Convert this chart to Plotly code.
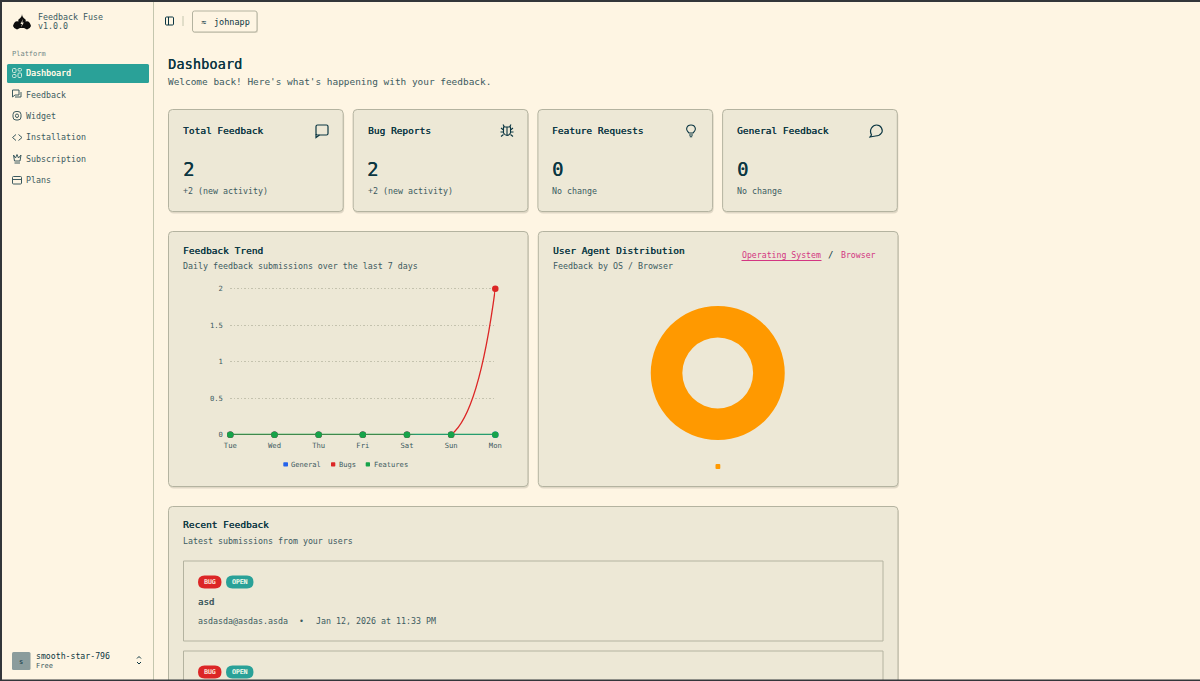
import plotly.graph_objects as go

# chart values
days = ["Tue", "Wed", "Thu", "Fri", "Sat", "Sun", "Mon"]
general = [0, 0, 0, 0, 0, 0, 0]
bugs = [0, 0, 0, 0, 0, 0, 2]
features = [0, 0, 0, 0, 0, 0, 0]
y_ticks = [0, 0.5, 1, 1.5, 2]
y_tick_labels = ["0", "0.5", "1", "1.5", "2"]
os_labels = [""]
os_values = [2]

# page text
nav_items = ["Dashboard", "Feedback", "Widget", "Installation", "Subscription", "Plans"]
card_titles = ["Total Feedback", "Bug Reports", "Feature Requests", "General Feedback"]
card_values = ["2", "2", "0", "0"]
card_notes = ["+2 (new activity)", "+2 (new activity)", "No change", "No change"]
legend_names = ["General", "Bugs", "Features"]

FONT = "DejaVu Sans Mono"
BG = "#fef5e3"
CARD = "#ede8d6"
EDGE = "#b4b3a0"
DARK = "#0b3642"
SOFT = "#3c5a5f"
TEAL = "#2aa198"
PINK = "#d33682"
RED = "#dc2626"
GREEN = "#16a34a"
BLUE = "#2563eb"
ORANGE = "#ff9900"

shapes = []
notes = []


def rr(x0, y0, x1, y1, r):
    return (f"M{x0+r},{y0} L{x1-r},{y0} Q{x1},{y0} {x1},{y0+r} L{x1},{y1-r} "
            f"Q{x1},{y1} {x1-r},{y1} L{x0+r},{y1} Q{x0},{y1} {x0},{y1-r} "
            f"L{x0},{y0+r} Q{x0},{y0} {x0+r},{y0} Z")


def box(x0, y0, x1, y1, r=0, fill=None, edge=None, width=1):
    shape(rr(x0, y0, x1, y1, r), edge, width, fill)


def shape(path, edge=None, width=1, fill=None, layer="below"):
    shapes.append(dict(
        type="path", path=path, xref="x", yref="y", layer=layer,
        fillcolor=fill or "rgba(0,0,0,0)",
        line=dict(color=edge or "rgba(0,0,0,0)", width=width if edge else 0)))


def text(x, y, s, size, color=DARK, bold=False, anchor="left"):
    font = dict(family=FONT, size=size, color=color)
    if bold:
        font["shadow"] = f"0.3px 0 0 {color}"
    notes.append(dict(
        x=x, y=y, xref="x", yref="y", text=s, showarrow=False,
        xanchor=anchor, yanchor="middle", borderpad=0, borderwidth=0, font=font))


def card(x0, y0, x1, y1):
    box(x0 + 0.5, y0 + 1.5, x1 + 1, y1 + 2, 5, fill="rgba(70,70,50,0.16)")
    box(x0, y0, x1, y1, 4, fill=CARD, edge=EDGE)


# sidebar
shape("M22,14 Q22,17 25.5,19.5 Q26,20.5 25.5,21.5 Q29.5,20 31,26 Q30,29 27,29.5 L24,28 L20,28 "
      "L17,29.5 Q14,29 13,26 Q14.5,20 18.5,21.5 Q18,20.5 18.5,19.5 Q22,17 22,14 Z", fill="#0d0d0d")
shape("M23,19 L20.5,24 L22,24 L21,27.5 L23.8,22.5 L22.2,22.5 Z", fill=BG)
shape("M153.5,0 L153.5,681", "#c4c6ae", 1)
text(38, 16.5, "Feedback Fuse", 8.3, SOFT)
text(38, 26, "v1.0.0", 8.3, SOFT)
text(12, 54, "Platform", 7, "#6f8583")
box(7, 64, 149, 83, 1.5, fill=TEAL)
for i, item in enumerate(nav_items):
    y = 73.3 + i * 21.35
    text(26, y, item, 8.3, "#fdf6e3" if i == 0 else SOFT, bold=i == 0)
c = SOFT
box(12.5, 68.5, 16, 72.5, 1, edge="#cfe9dc")
box(18, 68.5, 21.5, 71, 1, edge="#cfe9dc")
box(12.5, 74.5, 16, 77.5, 1, edge="#cfe9dc")
box(18, 73, 21.5, 77.5, 1, edge="#cfe9dc")
shape("M12.5,90 L19,90 L19,95 L15,95 L12.5,97 Z M15,97 L21,97 L21,92", c)
box(13, 111.5, 21, 120, 3, edge=c)
box(15.5, 114, 18.5, 117.5, 1.5, edge=c)
shape("M16,134.5 L12.5,137.5 L16,140.5 M18.5,134.5 L22,137.5 L18.5,140.5", c)
shape("M13.5,155 L15.5,158 L17,154.5 L18.5,158 L21,155 L20,161 L14.5,161 Z M14.5,163 L20,163", c)
box(12.5, 176.5, 21.5, 184, 1, edge=c)
shape("M12.5,179.5 L21.5,179.5", c)
box(12, 652, 30.5, 670, 1.5, fill="#8b9c9c")
text(21.2, 661.5, "s", 7, DARK, anchor="center")
text(36, 656, "smooth-star-796", 8.2, DARK)
text(36, 666, "Free", 7, SOFT)
shape("M137,658.5 L139,656.5 L141,658.5 M137,662 L139,664 L141,662", DARK)

# top bar
box(165.5, 17, 173.5, 25, 1, edge=DARK)
shape("M168.5,17 L168.5,25", DARK)
shape("M183,16 L183,26", "#c4c6ae")
box(193, 12, 258, 33, 2, fill="rgba(70,70,50,0.16)")
box(192.5, 11, 257, 32, 2, fill=BG, edge=EDGE)
text(201, 21.5, "≈", 8.5, DARK)
text(214, 21.5, "johnapp", 8.5, DARK)

# heading
text(168, 63.5, "Dashboard", 13.7, DARK, bold=True)
text(168, 81, "Welcome back! Here's what's happening with your feedback.", 9.44, SOFT)

# stat cards
for i in range(4):
    x0 = 168.5 + i * 184.7
    card(x0, 109.5, x0 + 174.7, 211.5)
    text(x0 + 14.5, 130.5, card_titles[i], 9.5, DARK, bold=True)
    text(x0 + 14, 169, card_values[i], 19, DARK, bold=True)
    text(x0 + 14.5, 191, card_notes[i], 8.3, SOFT)
box(316, 125, 328, 135, 1.5, edge=DARK, width=1.2)
shape("M316,134 L316,137.5 L319.5,135", DARK, 1.2)
shape("M503.5,127 L510.5,127 L510.5,133 Q507,138 503.5,133 Z M507,127 L507,136 "
      "M501,128 L503.5,130 M513,128 L510.5,130 M500.5,132 L503.5,132 M513.5,132 L510.5,132 "
      "M501,136.5 L503.5,134.5 M513,136.5 L510.5,134.5 M504.5,127 L503,124.5 M509.5,127 L511,124.5",
      DARK, 1.1)
shape("M689,133 Q686,130 686.8,128 Q687.5,125 691,125 Q694.5,125 695.2,128 Q696,130 693,133 Z "
      "M689,135 L693,135 M689.8,136.8 L692.2,136.8", DARK, 1.1)
shape("M871.5,135 Q869.5,131 871.5,128 Q873.5,125 876.5,125 Q880,125 881.5,128 Q883,131 881.5,133 "
      "Q879.5,136 875.5,136 L870,137 Z", DARK, 1.2)

# trend card
card(168.5, 231.5, 528, 486.5)
text(183, 250, "Feedback Trend", 9.5, DARK, bold=True)
text(183, 266, "Daily feedback submissions over the last 7 days", 8.3, SOFT)
for x, w, col, name, tx in zip([283.3, 331, 365.7], [4.7, 4.3, 4.3], [BLUE, RED, GREEN],
                               legend_names, [291.3, 339, 373.7]):
    box(x, 462.2, x + w, 466.4, 0.7, fill=col)
    text(tx, 464.3, name, 7.1, SOFT)

# user agent card
card(538.3, 231.5, 898, 486.5)
text(553, 250, "User Agent Distribution", 9.5, DARK, bold=True)
text(553, 266, "Feedback by OS / Browser", 8.3, SOFT)
text(742, 255.3, "Operating System", 8.2, PINK)
shape("M741.5,260.5 L821.5,260.5", PINK, 1)
text(830, 255.3, "/", 9, DARK, anchor="center")
text(841, 255.3, "Browser", 8.2, PINK)
box(715.5, 464, 720.3, 469, 1, fill=ORANGE)

# recent feedback card
card(168.5, 506.5, 898, 720)
text(183, 524.5, "Recent Feedback", 9.5, DARK, bold=True)
text(183, 540.5, "Latest submissions from your users", 8.3, SOFT)
box(183.5, 561, 883, 641, 0, edge=EDGE)
box(183.5, 651, 883, 720, 0, edge=EDGE)
for y in [582, 672]:
    box(198, y - 6.5, 221.5, y + 6.5, 6.5, fill=RED)
    box(226, y - 6.5, 253.5, y + 6.5, 6.5, fill=TEAL)
    text(209.7, y, "BUG", 6.4, "#fbdcd0", bold=True, anchor="center")
    text(239.7, y, "OPEN", 6.4, "#e6f5e6", bold=True, anchor="center")
text(198, 601.5, "asd", 9, SOFT, bold=True)
text(198, 620.5, "asdasda@asdas.asda", 8.3, SOFT)
text(301.5, 620.5, "•", 8.2, SOFT, anchor="center")
text(316, 620.5, "Jan 12, 2026 at 11:33 PM", 8.3, SOFT)

# window frame
shape("M0,0 L1200,0 L1200,2 L2,2 L2,679.5 L1200,679.5 L1200,681 L0,681 Z",
      fill="#33363a", layer="above")

fig = go.Figure()
fig.add_trace(go.Scatter(x=days, y=general, mode="lines+markers", name="General",
                         xaxis="x2", yaxis="y2", cliponaxis=False,
                         line=dict(color=BLUE, width=1.4), marker=dict(size=6.5, color=BLUE)))
fig.add_trace(go.Scatter(x=days, y=bugs, mode="lines", name="Bugs",
                         xaxis="x2", yaxis="y2",
                         line=dict(color=RED, width=1.3, shape="spline", smoothing=1.2)))
fig.add_trace(go.Scatter(x=days, y=bugs, mode="markers", name="Bugs",
                         xaxis="x2", yaxis="y2", cliponaxis=False,
                         marker=dict(size=6.5, color=RED)))
fig.add_trace(go.Scatter(x=days, y=features, mode="lines+markers", name="Features",
                         xaxis="x2", yaxis="y2", cliponaxis=False,
                         line=dict(color=GREEN, width=2), marker=dict(size=6.5, color=GREEN)))
fig.add_trace(go.Pie(labels=os_labels, values=os_values, hole=0.528, sort=False,
                     textinfo="none", marker=dict(colors=[ORANGE], line=dict(width=0)),
                     domain=dict(x=[650.5 / 1200, 785 / 1200],
                                 y=[1 - 440 / 681, 1 - 306 / 681])))

fig.update_layout(
    width=1200, height=681, autosize=False,
    margin=dict(l=0, r=0, t=0, b=0, pad=0, autoexpand=False),
    paper_bgcolor=BG, plot_bgcolor="rgba(0,0,0,0)",
    showlegend=False, hovermode=False,
    shapes=shapes, annotations=notes,
    # page axes in pixels, drawn first so the chart axes sit on top
    xaxis=dict(domain=[0, 1], range=[0, 1200], visible=False, fixedrange=True),
    yaxis=dict(domain=[0, 1], range=[681, 0], visible=False, fixedrange=True),
    xaxis2=dict(domain=[230.3 / 1200, 495.3 / 1200], anchor="y2", type="category",
                categoryorder="array", categoryarray=days, range=[0, 6],
                showgrid=False, zeroline=False, showline=False, fixedrange=True,
                ticks="outside", ticklen=4, tickcolor="rgba(0,0,0,0)",
                tickfont=dict(family=FONT, size=7.2, color=SOFT)),
    yaxis2=dict(domain=[1 - 434.7 / 681, 1 - 285.7 / 681], anchor="x2", range=[0, 2.0411],
                tickvals=y_ticks, ticktext=y_tick_labels, zeroline=False, showline=False,
                fixedrange=True, ticks="outside", ticklen=5, tickcolor="rgba(0,0,0,0)",
                showgrid=True, griddash="1.5px,2px", gridcolor="#c4c2ae", gridwidth=1,
                tickfont=dict(family=FONT, size=7.2, color=SOFT)),
)

fig.write_html("out.html", config=dict(displayModeBar=False),
               post_script="document.body.style.margin='0';document.body.style.overflow='hidden';")
